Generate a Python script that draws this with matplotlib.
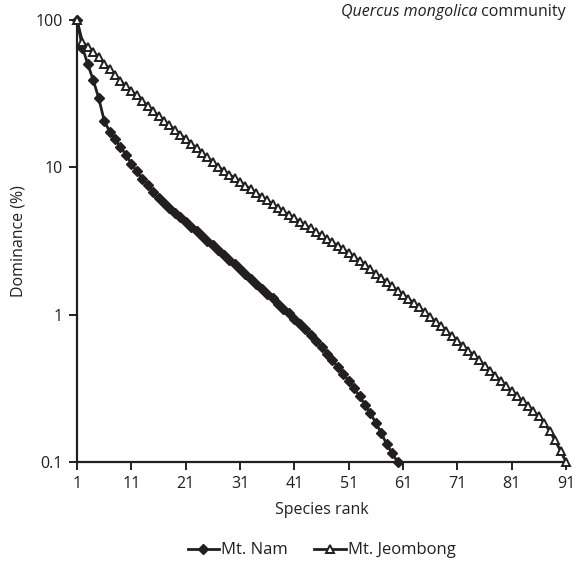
import matplotlib
matplotlib.use("Agg")
import matplotlib.pyplot as plt
from matplotlib.offsetbox import TextArea, HPacker, AnchoredOffsetbox
from matplotlib.ticker import FixedLocator, NullLocator

# ── data (dominance %, by species rank) ────────────────────────────────────
nam_rank = list(range(1, 61))
nam_dom = [
    100, 65, 50, 39, 29.5, 20.8, 17.5, 15.5, 13.8, 12.2,
    10.6, 9.4, 8.4, 7.6, 6.85, 6.17, 5.71, 5.30, 4.92, 4.58,
    4.27, 3.97, 3.69, 3.43, 3.18, 2.96, 2.75, 2.55, 2.37, 2.20,
    2.04, 1.89, 1.75, 1.62, 1.50, 1.39, 1.29, 1.19, 1.10, 1.02,
    0.94, 0.865, 0.794, 0.728, 0.665, 0.607, 0.543, 0.49, 0.442, 0.398,
    0.355, 0.316, 0.279, 0.245, 0.214, 0.184, 0.157, 0.132, 0.115, 0.1,
]

jeom_rank = list(range(1, 92))
jeom_dom = [
    100, 71, 65.8, 61, 56, 50.7, 46.5, 42.5, 38.7, 35.7,
    33.1, 30.8, 28.4, 26.2, 24.3, 22.3, 20.8, 19.3, 18.0, 16.7,
    15.6, 14.5, 13.5, 12.5, 11.7, 10.9, 10.1, 9.5, 8.95, 8.45,
    7.98, 7.52, 7.1, 6.7, 6.32, 5.97, 5.63, 5.31, 5.02, 4.76,
    4.52, 4.28, 4.05, 3.85, 3.64, 3.45, 3.27, 3.10, 2.94, 2.79,
    2.63, 2.47, 2.31, 2.16, 2.03, 1.90, 1.78, 1.66, 1.56, 1.46,
    1.37, 1.28, 1.20, 1.12, 1.04, 0.966, 0.898, 0.835, 0.776, 0.719,
    0.665, 0.617, 0.571, 0.529, 0.49, 0.452, 0.417, 0.385, 0.355, 0.327,
    0.302, 0.28, 0.259, 0.24, 0.221, 0.204, 0.184, 0.162, 0.14, 0.119,
    0.1,
]

x_ticks = [1, 11, 21, 31, 41, 51, 61, 71, 81, 91]
y_ticks = [0.1, 1, 10, 100]
y_ticklabels = ["0.1", "1", "10", "100"]

INK = "#231f20"
plt.rcParams["font.family"] = ["Open Sans", "DejaVu Sans"]

fig = plt.figure(figsize=(5.79, 5.68), dpi=100)
ax = fig.add_axes([0.133, 0.1866, 0.8446, 0.778])

ax.plot(nam_rank, nam_dom, color=INK, lw=2.0, marker="D", ms=4.8,
        mfc=INK, mec=INK, label="Mt. Nam", clip_on=False, zorder=3)
ax.plot(jeom_rank, jeom_dom, color=INK, lw=2.0, marker="^", ms=6.2,
        mfc="white", mec=INK, mew=1.4, label="Mt. Jeombong",
        clip_on=False, zorder=3)

ax.set_yscale("log")
ax.set_xlim(1, 91)
ax.set_ylim(0.1, 100)
ax.xaxis.set_major_locator(FixedLocator(x_ticks))
ax.set_xticklabels([str(t) for t in x_ticks])
ax.yaxis.set_major_locator(FixedLocator(y_ticks))
ax.yaxis.set_minor_locator(NullLocator())
ax.set_yticklabels(y_ticklabels)

for side in ("top", "right"):
    ax.spines[side].set_visible(False)
for side in ("left", "bottom"):
    ax.spines[side].set_linewidth(1.6)
    ax.spines[side].set_color(INK)
ax.tick_params(direction="out", length=6, width=1.4, color=INK,
               labelsize=11.5, labelcolor=INK, pad=4)

ax.set_xlabel("Species rank", fontsize=11.5, color=INK, labelpad=7)
ax.set_ylabel("Dominance (%)", fontsize=11.5, color=INK, labelpad=7)

# top-right caption, genus name in italics
parts = [
    TextArea("Quercus mongolica",
             textprops=dict(style="italic", fontsize=11.5, color=INK)),
    TextArea(" community", textprops=dict(fontsize=11.5, color=INK)),
]
box = HPacker(children=parts, align="baseline", pad=0, sep=0)
anch = AnchoredOffsetbox(loc="upper right", child=box, frameon=False,
                         bbox_to_anchor=(1.0, 1.037),
                         bbox_transform=ax.transAxes, borderpad=0, pad=0)
ax.add_artist(anch)

ax.legend(loc="lower center", bbox_to_anchor=(0.5, -0.252), ncol=2,
          frameon=False, fontsize=12, handlelength=1.9, handletextpad=0.1,
          columnspacing=1.6, labelcolor=INK)

fig.savefig("out.png", dpi=100)
